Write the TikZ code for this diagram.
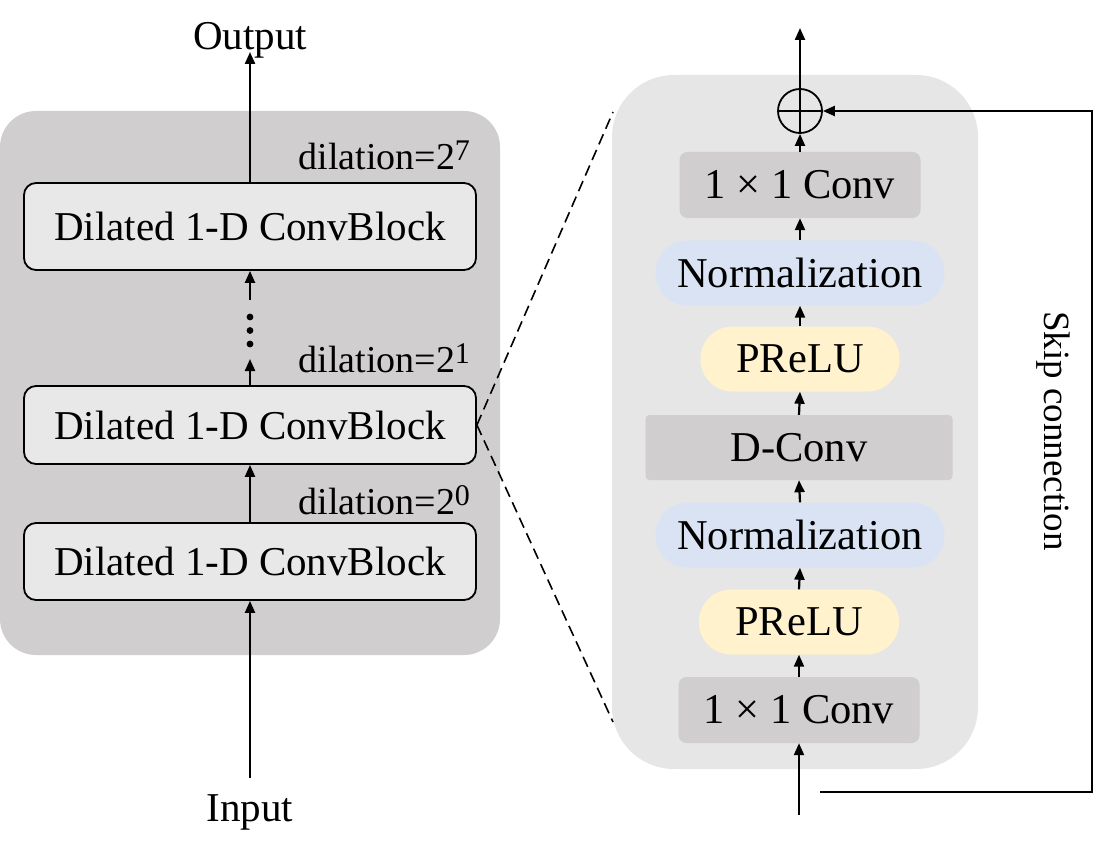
\documentclass[tikz,border=0pt]{standalone}
\usepackage{fontspec}
\setmainfont{Liberation Serif}
\usetikzlibrary{arrows.meta}
\definecolor{outerL}{HTML}{D0CECF}
\definecolor{outerR}{HTML}{E6E6E6}
\definecolor{blockL}{HTML}{E8E8E8}
\definecolor{convG}{HTML}{D0CECF}
\definecolor{normB}{HTML}{DAE3F3}
\definecolor{reluY}{HTML}{FFF2CC}
\begin{document}
\begin{tikzpicture}[x=1pt,y=-1pt,
  arr/.style={line width=2.2pt,-{Triangle[length=12pt,width=10pt]}},
  bigfont/.style={font=\fontsize{41}{48}\selectfont},
  rfont/.style={font=\fontsize{42.5}{50}\selectfont},
  dblock/.style={draw, line width=1.8pt, fill=blockL, rounded corners=12pt, minimum width=452pt, inner sep=0pt, bigfont},
  convbox/.style={fill=convG, rounded corners=8pt, inner sep=0pt, minimum height=66pt, rfont},
  pill/.style={rounded corners=32pt, inner sep=0pt, minimum height=65pt, rfont},
  dil/.style={anchor=east, font=\fontsize{38}{46}\selectfont},
  ]
\useasboundingbox (0,0) rectangle (1093,861);
% panels
\fill[outerL, rounded corners=36pt] (0,111) rectangle (500,655);
\fill[outerR, rounded corners=62pt] (612,75) rectangle (978,769);

% left column
\node[dblock, minimum height=87pt] (b7) at (250,226.5) {Dilated 1-D ConvBlock};
\node[dblock, minimum height=78pt] (b1) at (250,425) {Dilated 1-D ConvBlock};
\node[dblock, minimum height=77pt] (b0) at (250,561.5) {Dilated 1-D ConvBlock};
\node[bigfont] (out) at (250,40) {Output};
\node[bigfont] (in) at (250,812) {Input};
\node[dil] (d7) at (474,155) {dilation=2\textsuperscript{\fontsize{30}{30}\selectfont 7}};
\node[dil] (d1) at (474,358) {dilation=2\textsuperscript{\fontsize{30}{30}\selectfont 1}};
\node[dil] (d0) at (474,500) {dilation=2\textsuperscript{\fontsize{30}{30}\selectfont 0}};
\coordinate (inTop) at (250,778);
\coordinate (outBot) at (250,52);
\coordinate (dotTop) at (250,359);
\coordinate (dotBot) at (250,300);
\draw[arr] (inTop) -- (b0.south);
\draw[arr] (b0.north) -- (b1.south);
\draw[arr] (b1.north) -- (dotTop);
\draw[arr] (dotBot) -- (b7.south);
\draw[arr] (b7.north) -- (outBot);
\foreach \yy in {317,330.5,344} \fill (250,\yy) circle (3.4pt);

% right column
\node[draw, circle, line width=1.8pt, minimum size=44pt, inner sep=0pt] (plus) at (800,111) {};
\draw[line width=1.8pt] (plus.north) -- (plus.south) (plus.west) -- (plus.east);
\node[convbox, minimum width=241pt] (c2) at (800,185) {1 × 1 Conv};
\node[pill, fill=normB, minimum width=289pt] (n2) at (800,273) {Normalization};
\node[pill, fill=reluY, minimum width=199pt] (p2) at (800,359) {PReLU};
\node[convbox, minimum width=307pt, minimum height=65pt, rounded corners=4pt] (dc) at (799,447.5) {D-Conv};
\node[pill, fill=normB, minimum width=289pt] (n1) at (800,535) {Normalization};
\node[pill, fill=reluY, minimum width=200pt] (p1) at (799,622) {PReLU};
\node[convbox, minimum width=241pt] (c1) at (799,710) {1 × 1 Conv};
\coordinate (rin) at (799,815);
\coordinate (rout) at (800,28);
\draw[arr] (rin) -- (c1.south);
\draw[arr] (c1.north) -- (p1.south);
\draw[arr] (p1.north) -- (n1.south);
\draw[arr] (n1.north) -- (dc.south);
\draw[arr] (dc.north) -- (p2.south);
\draw[arr] (p2.north) -- (n2.south);
\draw[arr] (n2.north) -- (c2.south);
\draw[arr] (c2.north) -- (plus.south);
\draw[arr] (plus.north) -- (rout);

% skip connection
\coordinate (s0) at (820,792);
\coordinate (s1) at (1092,792);
\coordinate (s2) at (1092,111);
\draw[arr] (s0) -- (s1) -- (s2) -- (plus.east);
\node[rotate=-90, font=\fontsize{37}{44}\selectfont] (skip) at (1053,431) {Skip connection};

% zoom lines
\coordinate (z1) at (613,112);
\coordinate (z2) at (613,722);
\draw[line width=1.6pt, dash pattern=on 11pt off 6pt] (b1.east) -- (z1);
\draw[line width=1.6pt, dash pattern=on 11pt off 6pt] (b1.east) -- (z2);
\end{tikzpicture}
\end{document}
